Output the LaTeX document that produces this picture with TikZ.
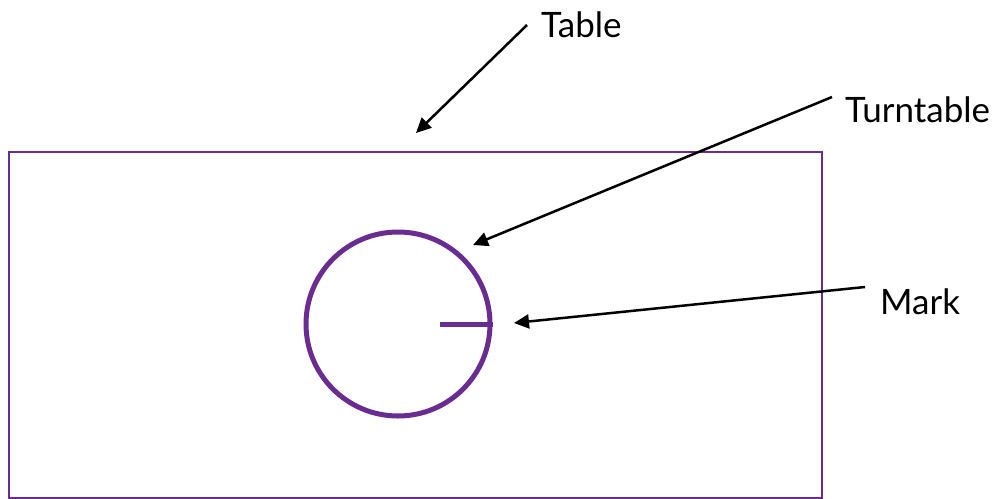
\documentclass[tikz,border=0pt]{standalone}
\usepackage{fontspec}
\setmainfont{Lato}
\usetikzlibrary{arrows.meta}
\definecolor{tpurple}{HTML}{6A2C91}
\tikzset{
  lbl/.style={anchor=west, inner sep=0pt, font=\fontsize{35}{40}\selectfont},
  pointer/.style={draw=black, line width=2.5pt, -{Triangle[length=15pt,width=14pt]}},
}
\begin{document}
\begin{tikzpicture}[x=1pt,y=-1pt]
\useasboundingbox (0,0) rectangle (1004,498);
\node[draw=tpurple, line width=2pt, minimum width=813pt, minimum height=346pt, inner sep=0pt, anchor=north west] (table) at (8,151) {};
\node[draw=tpurple, line width=5pt, circle, minimum size=184pt, inner sep=0pt] (tt) at (398,324) {};
\coordinate (mk) at (440,324);
\draw[tpurple, line width=5pt] (mk) -- (tt.east);
\node[lbl] (tlabel) at (541,25) {Table};
\node[lbl] (ttlabel) at (845,110) {Turntable};
\node[lbl] (mlabel) at (880,302) {Mark};
\coordinate (ts) at (527,25);
\coordinate (te) at (416,133);
\coordinate (us) at (832,97);
\coordinate (ue) at (473,245);
\coordinate (ms) at (865,287);
\coordinate (me) at (514,323);
\draw[pointer] (ts) -- (te);
\draw[pointer] (us) -- (ue);
\draw[pointer] (ms) -- (me);
\end{tikzpicture}
\end{document}
